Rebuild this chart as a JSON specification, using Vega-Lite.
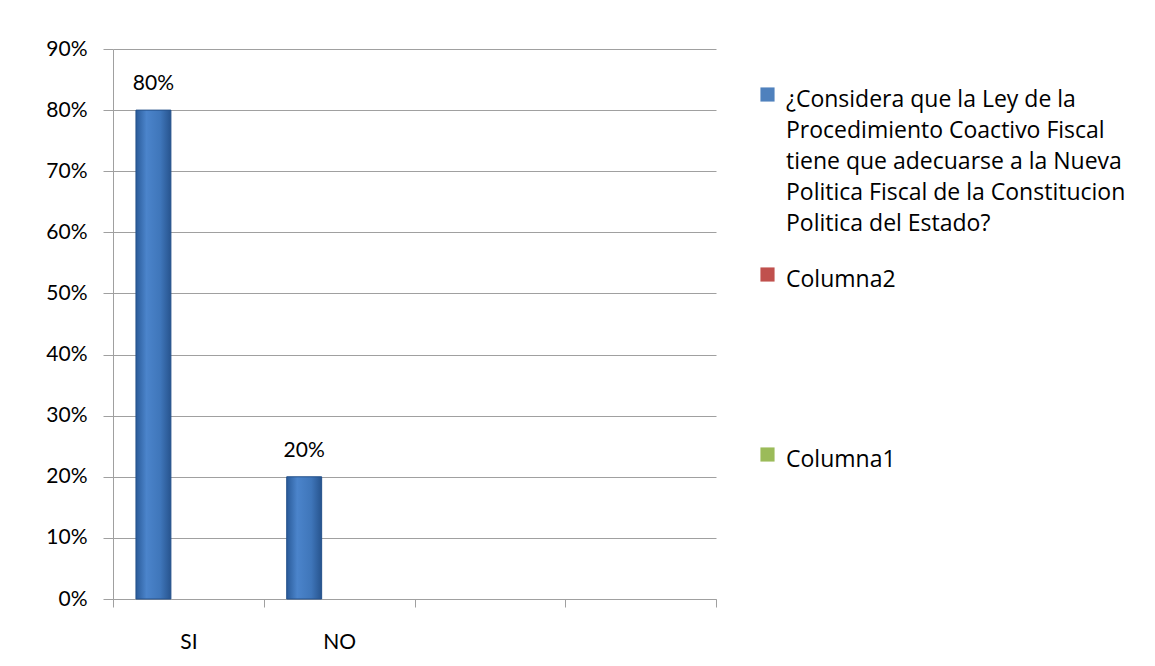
{
  "$schema": "https://vega.github.io/schema/vega-lite/v6.json",
  "width": 603,
  "height": 550,
  "autosize": {"type": "none"},
  "padding": {"left": 113, "top": 49, "right": 439, "bottom": 67},
  "background": "white",
  "data": {
    "values": [
      {"cat": "SI", "series": "¿Considera que la Ley de la Procedimiento Coactivo Fiscal tiene que adecuarse a la Nueva Politica Fiscal de la Constitucion Politica del Estado?", "value": 0.8},
      {"cat": "NO", "series": "¿Considera que la Ley de la Procedimiento Coactivo Fiscal tiene que adecuarse a la Nueva Politica Fiscal de la Constitucion Politica del Estado?", "value": 0.2}
    ]
  },
  "encoding": {
    "x": {
      "field": "cat",
      "type": "nominal",
      "sort": null,
      "scale": {"domain": ["SI", "NO", "c3", "c4"], "paddingInner": 0, "paddingOuter": 0},
      "axis": {
        "title": null,
        "labelAngle": 0,
        "labelExpr": "datum.label == 'c3' || datum.label == 'c4' ? '' : datum.label",
        "tickBand": "extent",
        "tickSize": 8,
        "tickColor": "#A0A0A0",
        "domainColor": "#A0A0A0",
        "labelPadding": 30,
        "labelFontSize": 21,
        "labelFont": "Lato",
        "labelColor": "black"
      }
    },
    "xOffset": {
      "field": "series",
      "type": "nominal",
      "scale": {"domain": ["¿Considera que la Ley de la Procedimiento Coactivo Fiscal tiene que adecuarse a la Nueva Politica Fiscal de la Constitucion Politica del Estado?", "Columna2", "Columna1"], "paddingInner": 0, "paddingOuter": 0.657}
    },
    "y": {
      "field": "value",
      "type": "quantitative",
      "scale": {"domain": [0, 0.9], "nice": false},
      "axis": {
        "title": null,
        "values": [0, 0.1, 0.2, 0.3, 0.4, 0.5, 0.6, 0.7, 0.8, 0.9],
        "format": ".0%",
        "tickSize": 10,
        "tickColor": "#A0A0A0",
        "gridColor": "#A0A0A0",
        "domainColor": "#A0A0A0",
        "labelPadding": 16,
        "labelOffset": 6,
        "labelFontSize": 21,
        "labelFont": "Lato",
        "labelColor": "black"
      }
    }
  },
  "layer": [
    {
      "mark": {
        "type": "bar",
        "stroke": "#24518A",
        "strokeWidth": 1,
        "fill": {
          "gradient": "linear",
          "x1": 0, "x2": 1, "y1": 0, "y2": 0,
          "stops": [
            {"offset": 0, "color": "#2A5B99"},
            {"offset": 0.3, "color": "#4B84CB"},
            {"offset": 0.7, "color": "#3F76BA"},
            {"offset": 1, "color": "#27548E"}
          ]
        }
      },
      "encoding": {
        "color": {
          "field": "series",
          "type": "nominal",
          "scale": {
            "domain": ["¿Considera que la Ley de la Procedimiento Coactivo Fiscal tiene que adecuarse a la Nueva Politica Fiscal de la Constitucion Politica del Estado?", "Columna2", "Columna1"],
            "range": ["#4F81BD", "#C0504D", "#9BBB59"]
          },
          "legend": {
            "title": null,
            "orient": "none",
            "legendX": 643,
            "legendY": 34,
            "symbolType": "square",
            "symbolSize": 200,
            "symbolStrokeWidth": 0,
            "labelOffset": 7,
            "labelFontSize": 23,
            "labelFont": "Open Sans",
            "labelColor": "black",
            "labelBaseline": "top",
            "labelLimit": 500,
            "rowPadding": 27,
            "labelExpr": "datum.label == 'Columna2' ? ['Columna2', '', '', '', ''] : datum.label == 'Columna1' ? ['Columna1'] : ['¿Considera que la Ley de la', 'Procedimiento Coactivo Fiscal', 'tiene que adecuarse a la Nueva', 'Politica Fiscal de la Constitucion', 'Politica del Estado?']"
          }
        }
      }
    },
    {
      "mark": {"type": "text", "baseline": "alphabetic", "dy": -20, "fontSize": 21, "font": "Lato", "color": "black"},
      "encoding": {
        "text": {"field": "value", "type": "quantitative", "format": ".0%"}
      }
    }
  ],
  "config": {
    "view": {"stroke": null},
    "style": {"guide-label": {"lineHeight": 31, "dy": -6}}
  }
}
